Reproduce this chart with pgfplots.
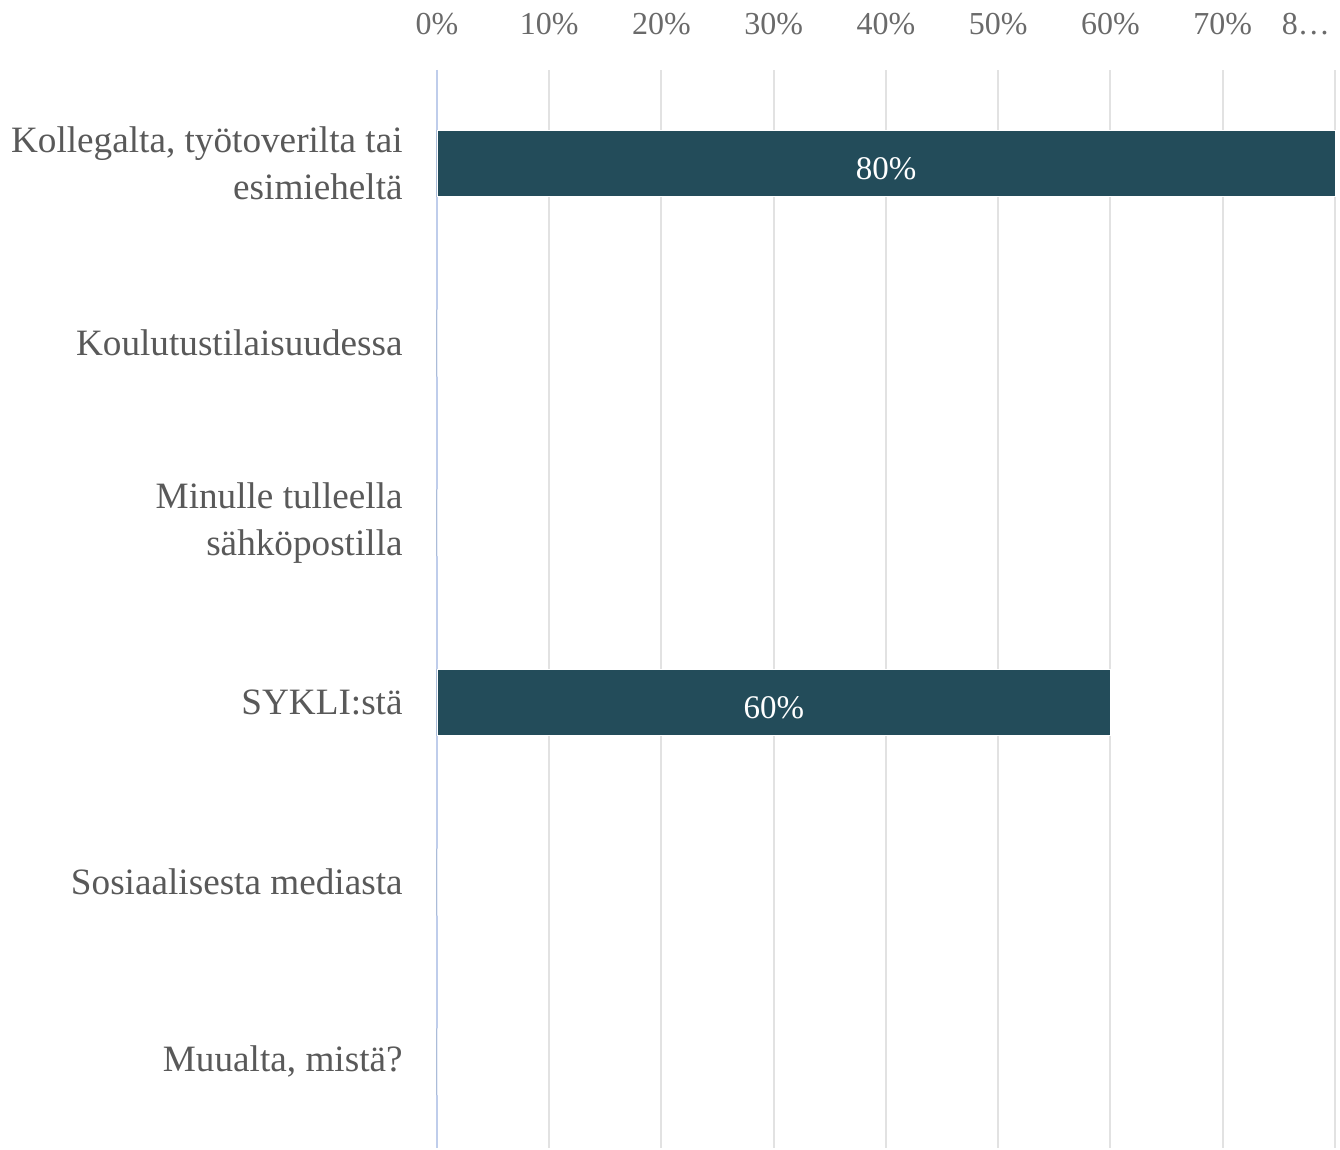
\documentclass[border=0pt]{standalone}
\usepackage{pgfplots}
\pgfplotsset{compat=1.18}
\usepackage{fontspec}
\setmainfont{Liberation Serif}
\definecolor{barc}{HTML}{234C5A}
\definecolor{gridc}{HTML}{E2E2E2}
\definecolor{zeroc}{HTML}{BFCDEB}
\definecolor{tickc}{HTML}{6A6A6A}
\definecolor{catc}{HTML}{595959}
\begin{document}
\begin{tikzpicture}
\begin{axis}[
  /pgf/number format/assume math mode=true,
  scale only axis,
  width=449pt, height=539pt,
  xmin=0, xmax=80, ymin=-0.52, ymax=5.48,
  y dir=reverse,
  xbar, bar width=0.372,
  axis line style={draw=none},
  major tick length=0pt,
  xmajorgrids, grid style={gridc, line width=1pt},
  xtick={0,10,20,30,40,50,60,70},
  xticklabels={0\%,10\%,20\%,30\%,40\%,50\%,60\%,70\%},
  extra x ticks={80},
  extra x tick labels={8…},
  extra x tick style={xticklabel style={xshift=-14.5pt}},
  xticklabel pos=top,
  xticklabel style={anchor=base, yshift=17.5pt, inner sep=0pt, text=tickc, font=\fontsize{16}{18}\selectfont},
  ytick={0,1,2,3,4,5},
  yticklabels={{Kollegalta, työtoverilta tai\\esimieheltä},{Koulutustilaisuudessa},{Minulle tulleella\\sähköpostilla},{SYKLI:stä},{Sosiaalisesta mediasta},{Muualta, mistä?}},
  yticklabel style={align=right, anchor=east, inner sep=0pt, xshift=-17pt, text=catc, font=\fontsize{18.6}{23.5}\selectfont},
  clip=false,
]
\draw[zeroc, line width=1.3pt] (axis cs:0,-0.52) -- (axis cs:0,5.48);
\addplot[fill=barc, draw=white, line width=0.4pt,
  visualization depends on={rawx \as \rawx},
  nodes near coords={\pgfmathfloatifflags{\pgfplotspointmeta}{0}{}{\pgfmathprintnumber{\pgfplotspointmeta}\%}},
  point meta=x,
  every node near coord/.append style={anchor=center, text=white, xshift={-2.80625pt*\rawx}, yshift=-2.5pt, font=\fontsize{16.5}{18}\selectfont},
] coordinates {(80,0) (0,1) (0,2) (60,3) (0,4) (0,5)};
\end{axis}
\useasboundingbox (-218.5pt,0) rectangle (451.5pt,574pt);
\end{tikzpicture}
\end{document}
